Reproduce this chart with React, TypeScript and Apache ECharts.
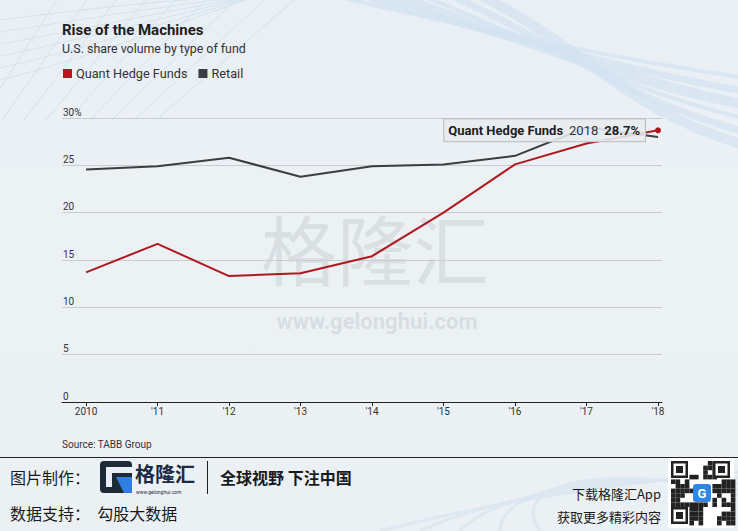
import React, { useEffect, useRef } from "react";
import * as echarts from "echarts";

const years = [2010, 2011, 2012, 2013, 2014, 2015, 2016, 2017, 2018];
const quantHedgeFunds = [13.7, 16.7, 13.3, 13.6, 15.4, 20.0, 25.1, 27.3, 28.7];
const retail = [24.55, 24.9, 25.8, 23.8, 24.9, 25.1, 26.0, 29.0, 28.0];
const yTicks = [0, 5, 10, 15, 20, 25, 30];
const seriesNames = ["Quant Hedge Funds", "Retail"];
const highlightYear = 2018;
const highlightValue = 28.7;

const RED = "#b0171f";
const DARK = "#3a3d41";
const FONT = "Roboto, 'Noto Sans', sans-serif";
const CJK = "'Noto Sans CJK SC', sans-serif";

function qrBlocks() {
  // fixed decorative pattern for the QR-like image (not data)
  const pattern = [
    "1110101101011",
    "0101110010110",
    "1011001101101",
    "0110110110010",
    "1101011001111",
    "0010110111010",
    "1101001010111",
    "1011110100101",
    "0110101111010",
  ];
  const out: any[] = [];
  const x0 = 671, y0 = 461, cell = 4.6;
  for (let r = 0; r < 14; r++) {
    for (let c = 0; c < 14; c++) {
      const inTL = r < 4 && c < 4;
      const inTR = r < 4 && c > 9;
      const inBL = r > 9 && c < 4;
      const inCenter = r >= 5 && r <= 8 && c >= 5 && c <= 8;
      if (inTL || inTR || inBL || inCenter) continue;
      const p = pattern[(r * 3 + c) % pattern.length];
      if (p[(c * 5 + r) % p.length] === "1") {
        out.push({ type: "rect", shape: { x: x0 + c * cell, y: y0 + r * cell, width: cell, height: cell }, style: { fill: "#222" } });
      }
    }
  }
  const finder = (fx: number, fy: number) => [
    { type: "rect", shape: { x: fx, y: fy, width: 17, height: 17 }, style: { fill: "#222" } },
    { type: "rect", shape: { x: fx + 2.5, y: fy + 2.5, width: 12, height: 12 }, style: { fill: "#fff" } },
    { type: "rect", shape: { x: fx + 5, y: fy + 5, width: 7, height: 7 }, style: { fill: "#222" } },
  ];
  out.push(...finder(671, 461), ...finder(713, 461), ...finder(671, 507));
  out.push({ type: "rect", shape: { x: 693, y: 484, width: 18, height: 18, r: 3 }, style: { fill: "#2f86e6" } });
  out.push({ type: "text", x: 702, y: 493, style: { text: "G", fill: "#fff", font: "bold 13px " + FONT, align: "center", verticalAlign: "middle" } });
  return out;
}

export default function App() {
  const ref = useRef<HTMLDivElement>(null);

  useEffect(() => {
    if (!ref.current) return;
    const chart = echarts.init(ref.current, null, { renderer: "svg" });

    const quantData = years.map((y, i) => [y, quantHedgeFunds[i]]);
    const retailData = years.map((y, i) => [y, retail[i]]);

    const deco: any[] = [];
    for (let i = 0; i < 9; i++) {
      deco.push({
        type: "line",
        shape: { x1: -20 + i * 22, y1: 120, x2: 60 + i * 30, y2: -5 },
        style: { stroke: "#c9d9e8", lineWidth: 0.8, opacity: 0.8 },
        silent: true,
      });
    }
    for (let i = 0; i < 6; i++) {
      deco.push({
        type: "bezierCurve",
        shape: { x1: 0, y1: 20 + i * 12, cpx1: 80, cpy1: 10 + i * 10, cpx2: 160, cpy2: 0 + i * 6, x2: 260, y2: -5 },
        style: { stroke: "#cfdeeb", lineWidth: 0.8, fill: null },
        silent: true,
      });
    }
    for (let i = 0; i < 6; i++) {
      deco.push({
        type: "bezierCurve",
        shape: { x1: 330 + i * 30, y1: -5, cpx1: 480 + i * 25, cpy1: 30 + i * 6, cpx2: 620, cpy2: 60 + i * 10, x2: 760, y2: 80 + i * 14 },
        style: { stroke: "#d3e3f1", lineWidth: 4 + (i % 3) * 3, fill: null, opacity: 0.7 },
        silent: true,
      });
    }
    for (let i = 0; i < 5; i++) {
      deco.push({
        type: "bezierCurve",
        shape: { x1: 380 + i * 40, y1: 531, cpx1: 500, cpy1: 500 - i * 6, cpx2: 640, cpy2: 480 - i * 5, x2: 760, y2: 470 + i * 8 },
        style: { stroke: "#dbe6f0", lineWidth: 3, fill: null, opacity: 0.8 },
        silent: true,
      });
    }

    const option: any = {
      animation: false,
      backgroundColor: "transparent",
      textStyle: { fontFamily: FONT },
      title: {
        left: 57,
        top: 17,
        text: "Rise of the Machines",
        subtext: "U.S. share volume by type of fund",
        itemGap: 5,
        textStyle: { fontFamily: FONT, fontSize: 15, fontWeight: "bold", color: "#1e1e1e" },
        subtextStyle: { fontFamily: FONT, fontSize: 12.4, color: "#333" },
      },
      legend: {
        left: 58,
        top: 62,
        icon: "rect",
        itemWidth: 9,
        itemHeight: 9,
        itemGap: 11,
        data: seriesNames,
        textStyle: { fontFamily: FONT, fontSize: 12.7, color: "#333", padding: [0, 0, 0, -1] },
      },
      grid: { left: 62, right: 76, top: 118, bottom: 129, containLabel: false },
      xAxis: {
        type: "value",
        min: 2009.664,
        max: 2018.056,
        splitLine: { show: false },
        axisLine: { show: true, lineStyle: { color: "#222", width: 1 } },
        axisTick: { show: true, customValues: years, length: 4, lineStyle: { color: "#222" } },
        axisLabel: {
          customValues: years,
          margin: 4,
          fontSize: 10,
          color: "#333",
          fontFamily: FONT,
          formatter: (v: number) => (v === years[0] ? String(v) : "'" + String(v).slice(2)),
        },
      },
      yAxis: {
        type: "value",
        min: 0,
        max: 30,
        interval: 5,
        axisLine: { show: false },
        axisTick: { show: false },
        splitLine: { show: true, lineStyle: { color: "#c9cdd1", width: 1 } },
        axisLabel: {
          inside: true,
          margin: 1,
          verticalAlign: "bottom",
          padding: [0, 0, 1, 0],
          fontSize: 10,
          color: "#333",
          fontFamily: FONT,
          formatter: (v: number) => (v === yTicks[yTicks.length - 1] ? v + "%" : String(v)),
        },
      },
      series: [
        {
          name: seriesNames[0],
          type: "line",
          data: quantData,
          symbol: "none",
          z: 4,
          itemStyle: { color: RED },
          lineStyle: { color: RED, width: 2 },
          markPoint: {
            symbol: "circle",
            symbolSize: 6,
            itemStyle: { color: RED },
            data: [{ coord: [highlightYear, highlightValue], value: highlightValue }],
            label: {
              show: true,
              position: "left",
              distance: 10,
              backgroundColor: "rgba(232,236,239,0.88)",
              borderColor: "#b9bec3",
              borderWidth: 1,
              padding: [5, 5, 4, 4],
              formatter: () => `{b|${seriesNames[0]}}  {n|${highlightYear}}  {b|${highlightValue}%}`,
              rich: {
                b: { fontFamily: FONT, fontSize: 13, fontWeight: "bold", color: "#1e1e1e" },
                n: { fontFamily: FONT, fontSize: 13, color: "#333" },
              },
            },
          },
        },
        {
          name: seriesNames[1],
          type: "line",
          data: retailData,
          symbol: "none",
          z: 3,
          itemStyle: { color: DARK },
          lineStyle: { color: DARK, width: 2 },
        },
      ],
      graphic: [
        ...deco,
        // watermark
        { type: "text", x: 375, y: 247, silent: true, z: -1,
          style: { text: "格隆汇", font: "76px " + CJK, fill: "rgba(165,173,181,0.26)", align: "center", verticalAlign: "middle" } },
        { type: "text", x: 377, y: 321, silent: true, z: -1,
          style: { text: "www.gelonghui.com", font: "bold 22px " + FONT, fill: "rgba(165,173,181,0.28)", align: "center", verticalAlign: "middle" } },
        // source
        { type: "text", x: 62, y: 444, style: { text: "Source: TABB Group", font: "10px " + FONT, fill: "#333", verticalAlign: "middle" } },
        { type: "line", shape: { x1: 0, y1: 457.5, x2: 738, y2: 457.5 }, style: { stroke: "#1e2226", lineWidth: 1.2 } },
        // bottom banner
        { type: "text", x: 10, y: 477, style: { text: "图片制作：", font: "16px " + CJK, fill: "#1a1a1a", verticalAlign: "middle" } },
        { type: "rect", shape: { x: 100, y: 461, width: 32, height: 32, r: 4 }, style: { fill: "#1f2a38" } },
        { type: "rect", shape: { x: 106, y: 467, width: 26, height: 6 }, style: { fill: "#e9eff4" } },
        { type: "rect", shape: { x: 106, y: 467, width: 6, height: 20 }, style: { fill: "#e9eff4" } },
        { type: "polygon", shape: { points: [[116, 477], [132, 477], [132, 493], [124, 493]] }, style: { fill: "#2f7fe0" } },
        { type: "text", x: 135, y: 473, style: { text: "格隆汇", font: "bold 20px " + CJK, fill: "#1c2a44", verticalAlign: "middle" } },
        { type: "text", x: 136, y: 492, style: { text: "www.gelonghui.com", font: "5px " + FONT, fill: "#1c2a44", verticalAlign: "middle" } },
        { type: "line", shape: { x1: 207.5, y1: 461, x2: 207.5, y2: 494 }, style: { stroke: "#1e1e1e", lineWidth: 1 } },
        { type: "text", x: 220, y: 477, style: { text: "全球视野 下注中国", font: "bold 16px " + CJK, fill: "#1a1a1a", verticalAlign: "middle" } },
        { type: "text", x: 10, y: 513, style: { text: "数据支持：  勾股大数据", font: "16px " + CJK, fill: "#1a1a1a", verticalAlign: "middle" } },
        { type: "text", x: 661, y: 493, style: { text: "下载格隆汇App", font: "13px " + CJK, fill: "#1a1a1a", align: "right", verticalAlign: "middle" } },
        { type: "text", x: 661, y: 516, style: { text: "获取更多精彩内容", font: "13px " + CJK, fill: "#1a1a1a", align: "right", verticalAlign: "middle" } },
        { type: "rect", shape: { x: 668, y: 458, width: 66, height: 70 }, style: { fill: "#fff" } },
        ...qrBlocks(),
      ],
    };

    chart.setOption(option);
    return () => chart.dispose();
  }, []);

  return (
    <div
      style={{
        position: "fixed",
        left: 0,
        top: 0,
        width: 738,
        height: 531,
        background: "linear-gradient(180deg, #e8eff5 0%, #ecf1f4 40%, #ebf0f4 100%)",
      }}
    >
      <div ref={ref} style={{ width: 738, height: 531 }} />
    </div>
  );
}
